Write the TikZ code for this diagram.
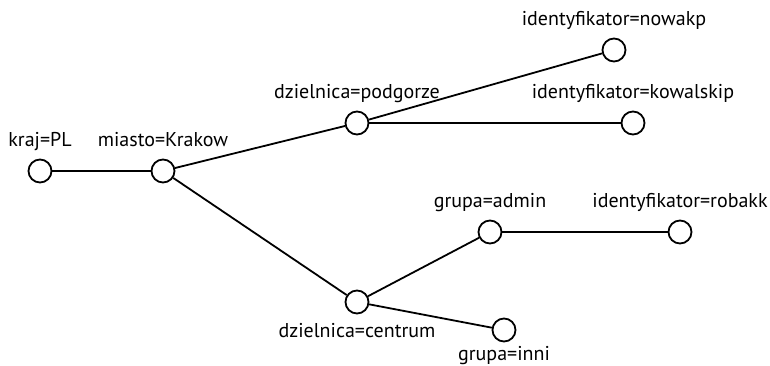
\documentclass[tikz,border=0pt]{standalone}
\usepackage{fontspec}
\setmainfont{PT Sans}
\usetikzlibrary{positioning}

\begin{document}
\begin{tikzpicture}[x=1pt, y=-1pt,
    vertex/.style={circle, draw, line width=1.8pt, minimum size=23pt, inner sep=0pt, fill=white},
    tag/.style={font=\fontsize{20}{23}\selectfont, inner sep=0pt, text height=14.5pt, text depth=4pt},
    every label/.style={tag},
    label distance=8pt,
    edge/.style={line width=1.8pt}]
\useasboundingbox (0,0) rectangle (770,366);

% Root branch
\node[vertex, label=above:{kraj=PL}] (kraj) at (40,171) {};
\node[vertex, label=above:{miasto=Krakow}] (miasto) at (163,171) {};

% Districts
\node[vertex, label=above:{dzielnica=podgorze}] (podgorze) at (357,123) {};
\node[vertex, label=below:{dzielnica=centrum}] (centrum) at (357,302) {};

% Leaves of podgorze
\node[vertex, label=above:{identyfikator=nowakp}] (nowakp) at (614,50) {};
\node[vertex, label=above:{identyfikator=kowalskip}] (kowalskip) at (633,123) {};

% Groups of centrum
\node[vertex, label=above:{grupa=admin}] (admin) at (490,232) {};
\node[vertex, label=above:{identyfikator=robakk}] (robakk) at (680,232) {};
\node[vertex, label={[label distance=3pt]below:{grupa=inni}}] (inni) at (504,330) {};

% Edges
\draw[edge] (kraj) -- (miasto);
\draw[edge] (miasto) -- (podgorze);
\draw[edge] (miasto) -- (centrum);
\draw[edge] (podgorze) -- (nowakp);
\draw[edge] (podgorze) -- (kowalskip);
\draw[edge] (centrum) -- (admin);
\draw[edge] (centrum) -- (inni);
\draw[edge] (admin) -- (robakk);
\end{tikzpicture}
\end{document}
